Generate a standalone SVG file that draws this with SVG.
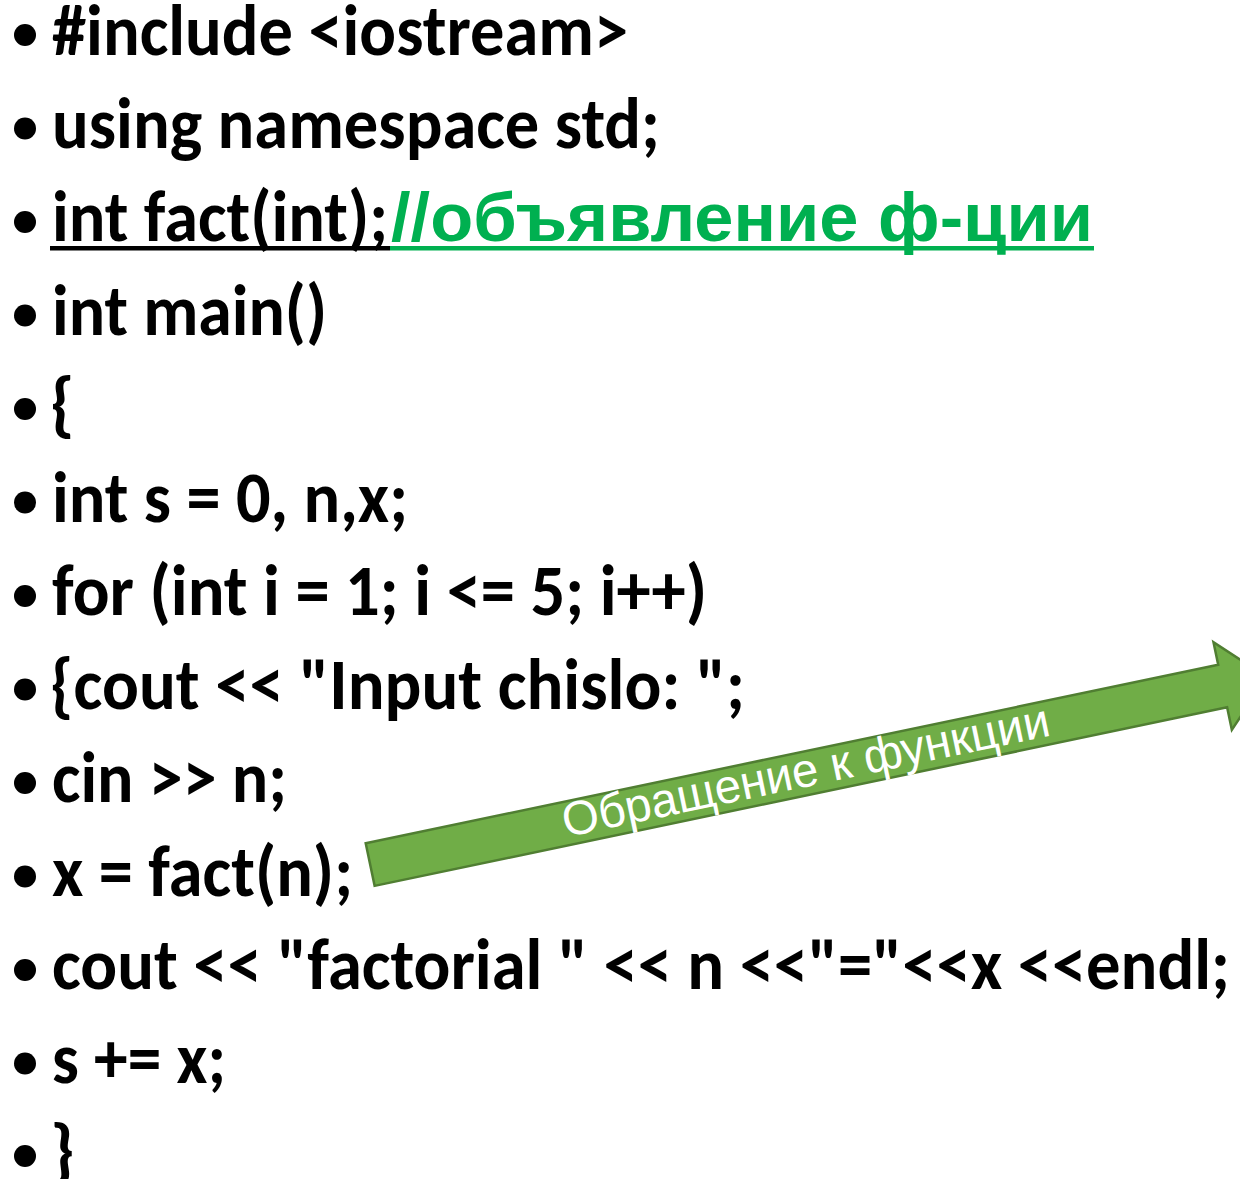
<svg xmlns="http://www.w3.org/2000/svg" width="1240" height="1179" viewBox="0 0 1240 1179">
  <style>
    .code { font-family: Carlito, Lato, "Open Sans", sans-serif; font-weight: bold; font-size: 72px; fill: #000; }
    .note { font-family: "Liberation Sans", Arial, sans-serif; font-weight: bold; font-size: 68px; fill: #00B050; }
    .label { font-family: "Liberation Sans", Arial, sans-serif; font-size: 48px; fill: #fff; }
    .dot { fill: #000; }
    .arrow { fill: #70AD47; stroke: #507E32; stroke-width: 2.5; stroke-linejoin: miter; }
  </style>
  <rect width="1240" height="1179" fill="#fff"/>

  <!-- program listing, one bulleted line per group -->
  <g id="line-include">
    <circle class="dot" cx="25" cy="35" r="11"/>
    <text class="code" x="52" y="54.5" textLength="576" lengthAdjust="spacingAndGlyphs">#include &lt;iostream&gt;</text>
  </g>
  <g id="line-using">
    <circle class="dot" cx="25" cy="128.5" r="11"/>
    <text class="code" x="52" y="147.5" textLength="608" lengthAdjust="spacingAndGlyphs">using namespace std;</text>
  </g>
  <g id="line-prototype">
    <circle class="dot" cx="25" cy="222" r="11"/>
    <text class="code" x="52" y="241" textLength="336" lengthAdjust="spacingAndGlyphs">int fact(int);</text>
    <text class="note" x="391" y="241" textLength="702" lengthAdjust="spacingAndGlyphs">//объявление ф-ции</text>
    <rect x="50" y="246" width="340" height="4.5" fill="#000"/>
    <rect x="390" y="246" width="704" height="4.5" fill="#00B050"/>
  </g>
  <g id="line-main">
    <circle class="dot" cx="25" cy="315.5" r="11"/>
    <text class="code" x="52" y="334.5" textLength="275" lengthAdjust="spacingAndGlyphs">int main()</text>
  </g>
  <g id="line-open-main">
    <circle class="dot" cx="25" cy="409" r="11"/>
    <text class="code" x="50" y="428">{</text>
  </g>
  <g id="line-decl">
    <circle class="dot" cx="25" cy="502.5" r="11"/>
    <text class="code" x="52" y="521.5" textLength="356" lengthAdjust="spacingAndGlyphs">int s = 0, n,x;</text>
  </g>
  <g id="line-for">
    <circle class="dot" cx="25" cy="596" r="11"/>
    <text class="code" x="52" y="615" textLength="655" lengthAdjust="spacingAndGlyphs">for (int i = 1; i &lt;= 5; i++)</text>
  </g>
  <g id="line-prompt">
    <circle class="dot" cx="25" cy="689.5" r="11"/>
    <text class="code" x="50" y="708.5" textLength="695" lengthAdjust="spacingAndGlyphs">{cout &lt;&lt; "Input chislo: ";</text>
  </g>
  <g id="line-cin">
    <circle class="dot" cx="25" cy="783" r="11"/>
    <text class="code" x="52" y="802" textLength="235" lengthAdjust="spacingAndGlyphs">cin &gt;&gt; n;</text>
  </g>
  <g id="line-call">
    <circle class="dot" cx="25" cy="876.5" r="11"/>
    <text class="code" x="52" y="895.5" textLength="301" lengthAdjust="spacingAndGlyphs">x = fact(n);</text>
  </g>
  <g id="line-output">
    <circle class="dot" cx="25" cy="970" r="11"/>
    <text class="code" x="52" y="989" textLength="1178" lengthAdjust="spacingAndGlyphs">cout &lt;&lt; "factorial " &lt;&lt; n &lt;&lt;"="&lt;&lt;x &lt;&lt;endl;</text>
  </g>
  <g id="line-sum">
    <circle class="dot" cx="25" cy="1063.5" r="11"/>
    <text class="code" x="52" y="1082.5" textLength="174" lengthAdjust="spacingAndGlyphs">s += x;</text>
  </g>
  <g id="line-close">
    <circle class="dot" cx="25" cy="1156" r="11"/>
    <text class="code" x="50" y="1175">}</text>
  </g>

  <!-- block arrow from the call site toward the function body -->
  <g id="connectors">
    <g id="call-arrow" transform="translate(365.7 843.3) rotate(-11.83)">
      <path class="arrow" d="M0 0 H871 V-23 L916 21.75 L871 66.5 V43.5 H0 Z"/>
      <text class="label" x="197" y="35" textLength="497" lengthAdjust="spacingAndGlyphs">Обращение к функции</text>
    </g>
  </g>
</svg>
